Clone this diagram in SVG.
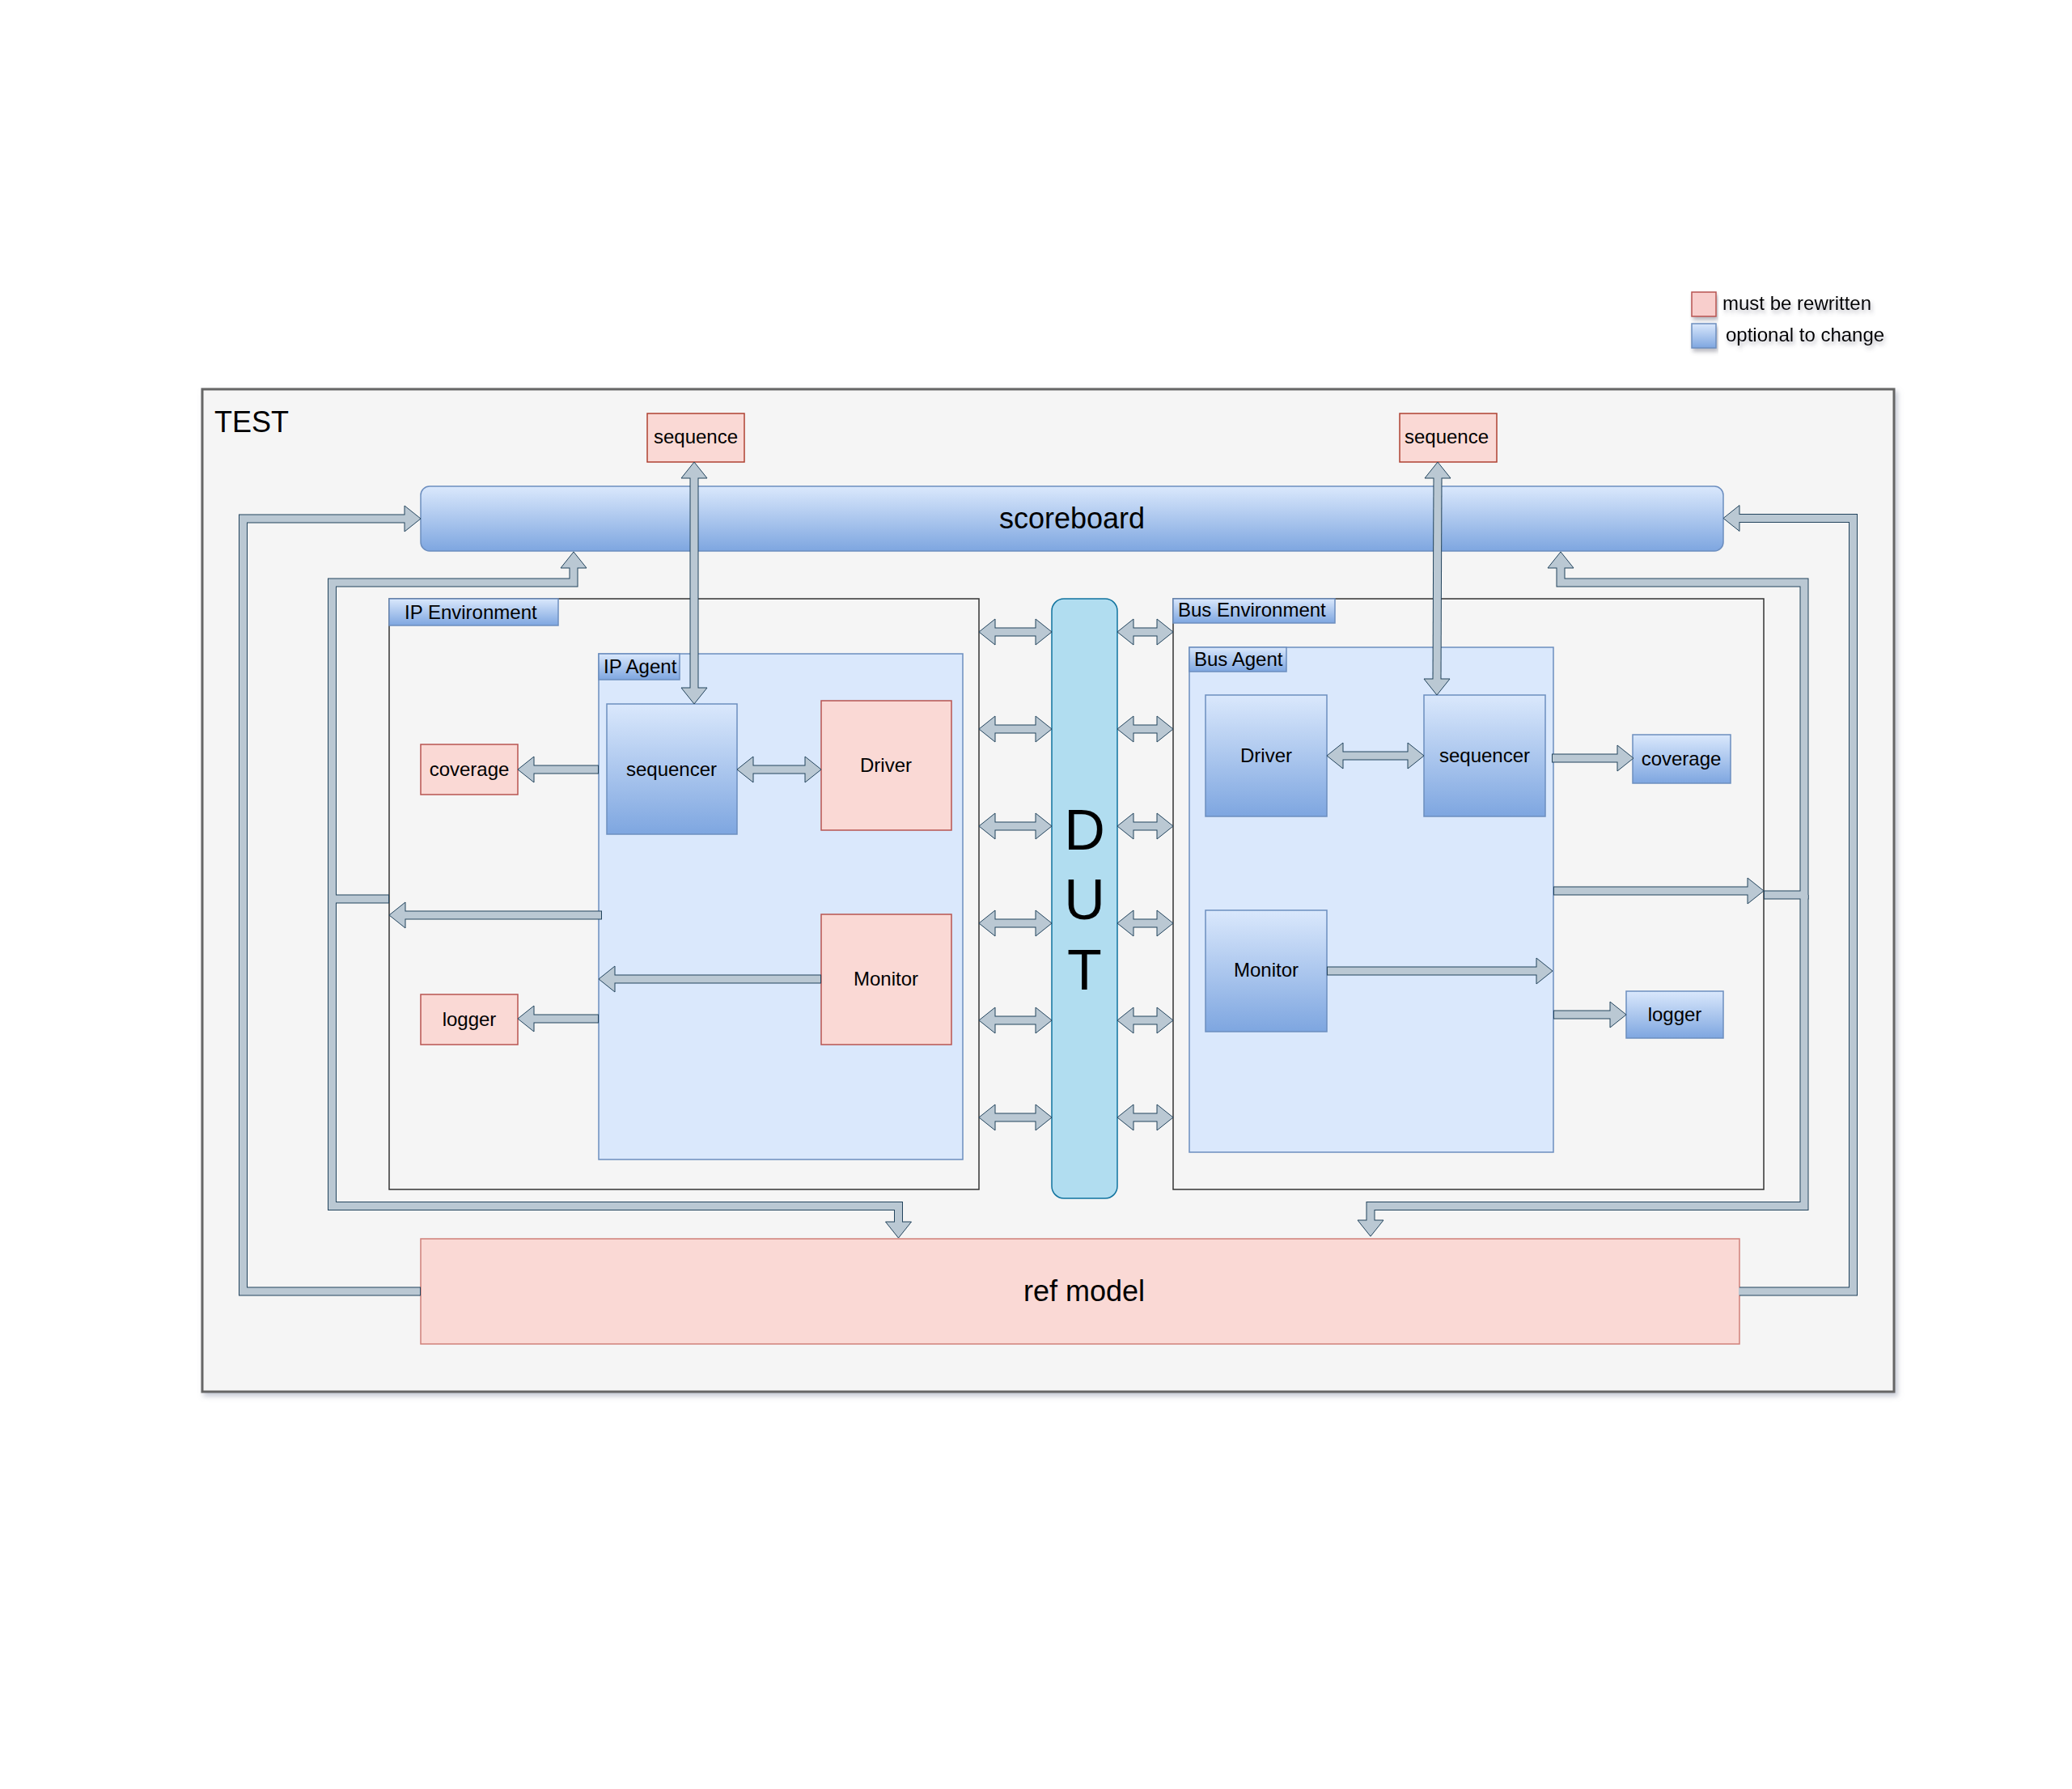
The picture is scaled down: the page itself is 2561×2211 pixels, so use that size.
<svg xmlns="http://www.w3.org/2000/svg" width="2561" height="2211" viewBox="0 0 2561 2211">
<style>
text{font-family:"Liberation Sans",Arial,sans-serif;fill:#000}
.t24{font-size:24px}
.t36{font-size:36px}
.mid{text-anchor:middle}
.pink{fill:#fad9d5;stroke:#b85450;stroke-width:1.5}
.blue{fill:url(#bg);stroke:#6c8ebf;stroke-width:1.5}
.agent{fill:#dae8fc;stroke:#6c8ebf;stroke-width:1.5}
.env{fill:#f5f5f5;stroke:#333;stroke-width:1.5}
.ao{fill:none;stroke:#23445d;stroke-width:11;stroke-linejoin:miter}
.ai{fill:none;stroke:#bac8d3;stroke-width:9;stroke-linejoin:miter}
.ah{fill:#bac8d3;stroke:#23445d;stroke-width:1;stroke-linejoin:miter}
</style>
<defs>
<linearGradient id="bg" x1="0" y1="0" x2="0" y2="1">
<stop offset="0" stop-color="#dae8fc"/>
<stop offset="1" stop-color="#7ea6e0"/>
</linearGradient>
<filter id="sh" x="-5%" y="-5%" width="110%" height="110%">
<feDropShadow dx="3" dy="4" stdDeviation="3" flood-color="#8890a8" flood-opacity="0.5"/>
</filter>
<filter id="tsh" x="-10%" y="-30%" width="120%" height="180%">
<feDropShadow dx="2" dy="4" stdDeviation="2.5" flood-color="#667" flood-opacity="0.45"/>
</filter>
</defs>
<rect width="2561" height="2211" fill="#ffffff"/>

<g id="legend">
<rect x="2091" y="361" width="30" height="30" fill="#f8cecc" stroke="#b85450" stroke-width="1.5" filter="url(#tsh)"/>
<rect x="2091" y="400" width="30" height="30" fill="url(#bg)" stroke="#6c8ebf" stroke-width="1.5" filter="url(#tsh)"/>
<text x="2129" y="383" class="t24" filter="url(#tsh)">must be rewritten</text>
<text x="2133" y="422" class="t24" filter="url(#tsh)">optional to change</text>
</g>

<g id="test">
<rect x="250" y="481" width="2091" height="1239" fill="#f5f5f5" stroke="#666666" stroke-width="3" filter="url(#sh)"/>
<text x="265" y="534" class="t36">TEST</text>
</g>

<g id="sequence-left">
<rect x="800" y="511" width="120" height="60" class="pink" style="stroke:#ae4132"/>
<text x="860" y="548" class="t24 mid">sequence</text>
</g>
<g id="sequence-right">
<rect x="1730" y="511" width="120" height="60" class="pink" style="stroke:#ae4132"/>
<text x="1788" y="548" class="t24 mid">sequence</text>
</g>

<g id="scoreboard">
<rect x="520" y="601" width="1610" height="80" rx="11" class="blue"/>
<text x="1325" y="653" class="t36 mid">scoreboard</text>
</g>

<g id="ip-environment">
<rect x="481" y="740" width="729" height="730" class="env"/>
<rect x="481" y="740" width="209" height="33" class="blue"/>
<text x="500" y="765" class="t24">IP Environment</text>
</g>
<g id="ip-agent">
<rect x="740" y="808" width="450" height="625" class="agent"/>
<rect x="740" y="808" width="100" height="32" class="blue"/>
<text x="746" y="832" class="t24">IP Agent</text>
</g>
<g id="ip-sequencer">
<rect x="750" y="870" width="161" height="161" class="blue"/>
<text x="830" y="959" class="t24 mid">sequencer</text>
</g>
<g id="ip-driver">
<rect x="1015" y="866" width="161" height="160" class="pink"/>
<text x="1095" y="954" class="t24 mid">Driver</text>
</g>
<g id="ip-monitor">
<rect x="1015" y="1130" width="161" height="161" class="pink"/>
<text x="1095" y="1218" class="t24 mid">Monitor</text>
</g>
<g id="ip-coverage">
<rect x="520" y="920" width="120" height="62" class="pink"/>
<text x="580" y="959" class="t24 mid">coverage</text>
</g>
<g id="ip-logger">
<rect x="520" y="1229" width="120" height="62" class="pink"/>
<text x="580" y="1268" class="t24 mid">logger</text>
</g>

<g id="dut">
<rect x="1300" y="740" width="81" height="741" rx="15" fill="#b1ddf0" stroke="#10739e" stroke-width="1.5"/>
<text x="1340.5" y="1050" class="mid" style="font-size:70px">D</text>
<text x="1340.5" y="1136" class="mid" style="font-size:70px">U</text>
<text x="1340.5" y="1223" class="mid" style="font-size:70px">T</text>
</g>

<g id="bus-environment">
<rect x="1450" y="740" width="730" height="730" class="env"/>
<rect x="1450" y="740" width="200" height="30" class="blue"/>
<text x="1456" y="762" class="t24">Bus Environment</text>
</g>
<g id="bus-agent">
<rect x="1470" y="800" width="450" height="624" class="agent"/>
<rect x="1470" y="800" width="120" height="30" class="blue"/>
<text x="1476" y="823" class="t24">Bus Agent</text>
</g>
<g id="bus-driver">
<rect x="1490" y="859" width="150" height="150" class="blue"/>
<text x="1565" y="942" class="t24 mid">Driver</text>
</g>
<g id="bus-sequencer">
<rect x="1760" y="859" width="150" height="150" class="blue"/>
<text x="1835" y="942" class="t24 mid">sequencer</text>
</g>
<g id="bus-monitor">
<rect x="1490" y="1125" width="150" height="150" class="blue"/>
<text x="1565" y="1207" class="t24 mid">Monitor</text>
</g>
<g id="bus-coverage">
<rect x="2018" y="908" width="121" height="60" class="blue"/>
<text x="2078" y="946" class="t24 mid">coverage</text>
</g>
<g id="bus-logger">
<rect x="2010" y="1225" width="120" height="58" class="blue"/>
<text x="2070" y="1262" class="t24 mid">logger</text>
</g>

<g id="ref-model">
<rect x="520" y="1531" width="1630" height="130" class="pink" style="stroke:#d0807a"/>
<text x="1340" y="1608" class="t36 mid">ref model</text>
</g>

<g id="connectors">
<g class="ao">
<path d="M858,591 V850"/>
<path d="M1777,591 L1776,839"/>
<path d="M740,951 H660"/>
<path d="M931,951 H995"/>
<path d="M744,1131 H501"/>
<path d="M481,1111 H410.5 V720 H709 V702"/>
<path d="M410.5,1111 V1490.5 H1110.5 V1510"/>
<path d="M520,1596 H300.5 V641 H500"/>
<path d="M740,1259 H660"/>
<path d="M1015,1210 H760"/>
<path d="M1230,781 H1280 M1230,901 H1280 M1230,1021 H1280 M1230,1141 H1280 M1230,1261 H1280 M1230,1381 H1280"/>
<path d="M1401,781 H1430 M1401,901 H1430 M1401,1021 H1430 M1401,1141 H1430 M1401,1261 H1430 M1401,1381 H1430"/>
<path d="M1660,934 H1740"/>
<path d="M1918,937 H1999"/>
<path d="M1920,1101 H2160"/>
<path d="M2180,1106 H2230 V720 H1929 V702"/>
<path d="M2230,1106 V1490.5 H1694 V1508"/>
<path d="M1640,1200 H1899"/>
<path d="M1920,1254 H1990"/>
<path d="M2150,1596 H2290.5 V640.5 H2150"/>
</g>
<g class="ah">
<polygon points="858,571 842,591 874,591"/>
<polygon points="858,870 842,850 874,850"/>
<polygon points="1777,571 1761,591 1793,591"/>
<polygon points="1776,859 1760,839 1792,839"/>
<polygon points="640,951 660,935 660,967"/>
<polygon points="911,951 931,935 931,967"/>
<polygon points="1015,951 995,935 995,967"/>
<polygon points="481,1131 501,1115 501,1147"/>
<polygon points="709,682 693,702 725,702"/>
<polygon points="1110.5,1530 1094.5,1510 1126.5,1510"/>
<polygon points="520,641 500,625 500,657"/>
<polygon points="640,1259 660,1243 660,1275"/>
<polygon points="740,1210 760,1194 760,1226"/>
<polygon points="1210,781 1230,765 1230,797"/><polygon points="1300,781 1280,765 1280,797"/>
<polygon points="1210,901 1230,885 1230,917"/><polygon points="1300,901 1280,885 1280,917"/>
<polygon points="1210,1021 1230,1005 1230,1037"/><polygon points="1300,1021 1280,1005 1280,1037"/>
<polygon points="1210,1141 1230,1125 1230,1157"/><polygon points="1300,1141 1280,1125 1280,1157"/>
<polygon points="1210,1261 1230,1245 1230,1277"/><polygon points="1300,1261 1280,1245 1280,1277"/>
<polygon points="1210,1381 1230,1365 1230,1397"/><polygon points="1300,1381 1280,1365 1280,1397"/>
<polygon points="1381,781 1401,765 1401,797"/><polygon points="1450,781 1430,765 1430,797"/>
<polygon points="1381,901 1401,885 1401,917"/><polygon points="1450,901 1430,885 1430,917"/>
<polygon points="1381,1021 1401,1005 1401,1037"/><polygon points="1450,1021 1430,1005 1430,1037"/>
<polygon points="1381,1141 1401,1125 1401,1157"/><polygon points="1450,1141 1430,1125 1430,1157"/>
<polygon points="1381,1261 1401,1245 1401,1277"/><polygon points="1450,1261 1430,1245 1430,1277"/>
<polygon points="1381,1381 1401,1365 1401,1397"/><polygon points="1450,1381 1430,1365 1430,1397"/>
<polygon points="1640,934 1660,918 1660,950"/>
<polygon points="1760,934 1740,918 1740,950"/>
<polygon points="2019,937 1999,921 1999,953"/>
<polygon points="2180,1101 2160,1085 2160,1117"/>
<polygon points="1929,682 1913,702 1945,702"/>
<polygon points="1694,1528 1678,1508 1710,1508"/>
<polygon points="1919,1200 1899,1184 1899,1216"/>
<polygon points="2010,1254 1990,1238 1990,1270"/>
<polygon points="2130,640.5 2150,624.5 2150,656.5"/>
</g>
<g class="ai">
<path d="M858,589 V852"/>
<path d="M1777,589 L1776,841"/>
<path d="M739,951 H658"/>
<path d="M929,951 H997"/>
<path d="M743,1131 H499"/>
<path d="M480,1111 H410.5 V720 H709 V700"/>
<path d="M410.5,1111 V1490.5 H1110.5 V1512"/>
<path d="M519,1596 H300.5 V641 H502"/>
<path d="M739,1259 H658"/>
<path d="M1014,1210 H758"/>
<path d="M1228,781 H1282 M1228,901 H1282 M1228,1021 H1282 M1228,1141 H1282 M1228,1261 H1282 M1228,1381 H1282"/>
<path d="M1399,781 H1432 M1399,901 H1432 M1399,1021 H1432 M1399,1141 H1432 M1399,1261 H1432 M1399,1381 H1432"/>
<path d="M1658,934 H1742"/>
<path d="M1919,937 H2001"/>
<path d="M1921,1101 H2162"/>
<path d="M2181,1106 H2230 V720 H1929 V700"/>
<path d="M2230,1106 V1490.5 H1694 V1510"/>
<path d="M1641,1200 H1901"/>
<path d="M1921,1254 H1992"/>
<path d="M2149,1596 H2290.5 V640.5 H2148"/>
</g>
</g>
</svg>
